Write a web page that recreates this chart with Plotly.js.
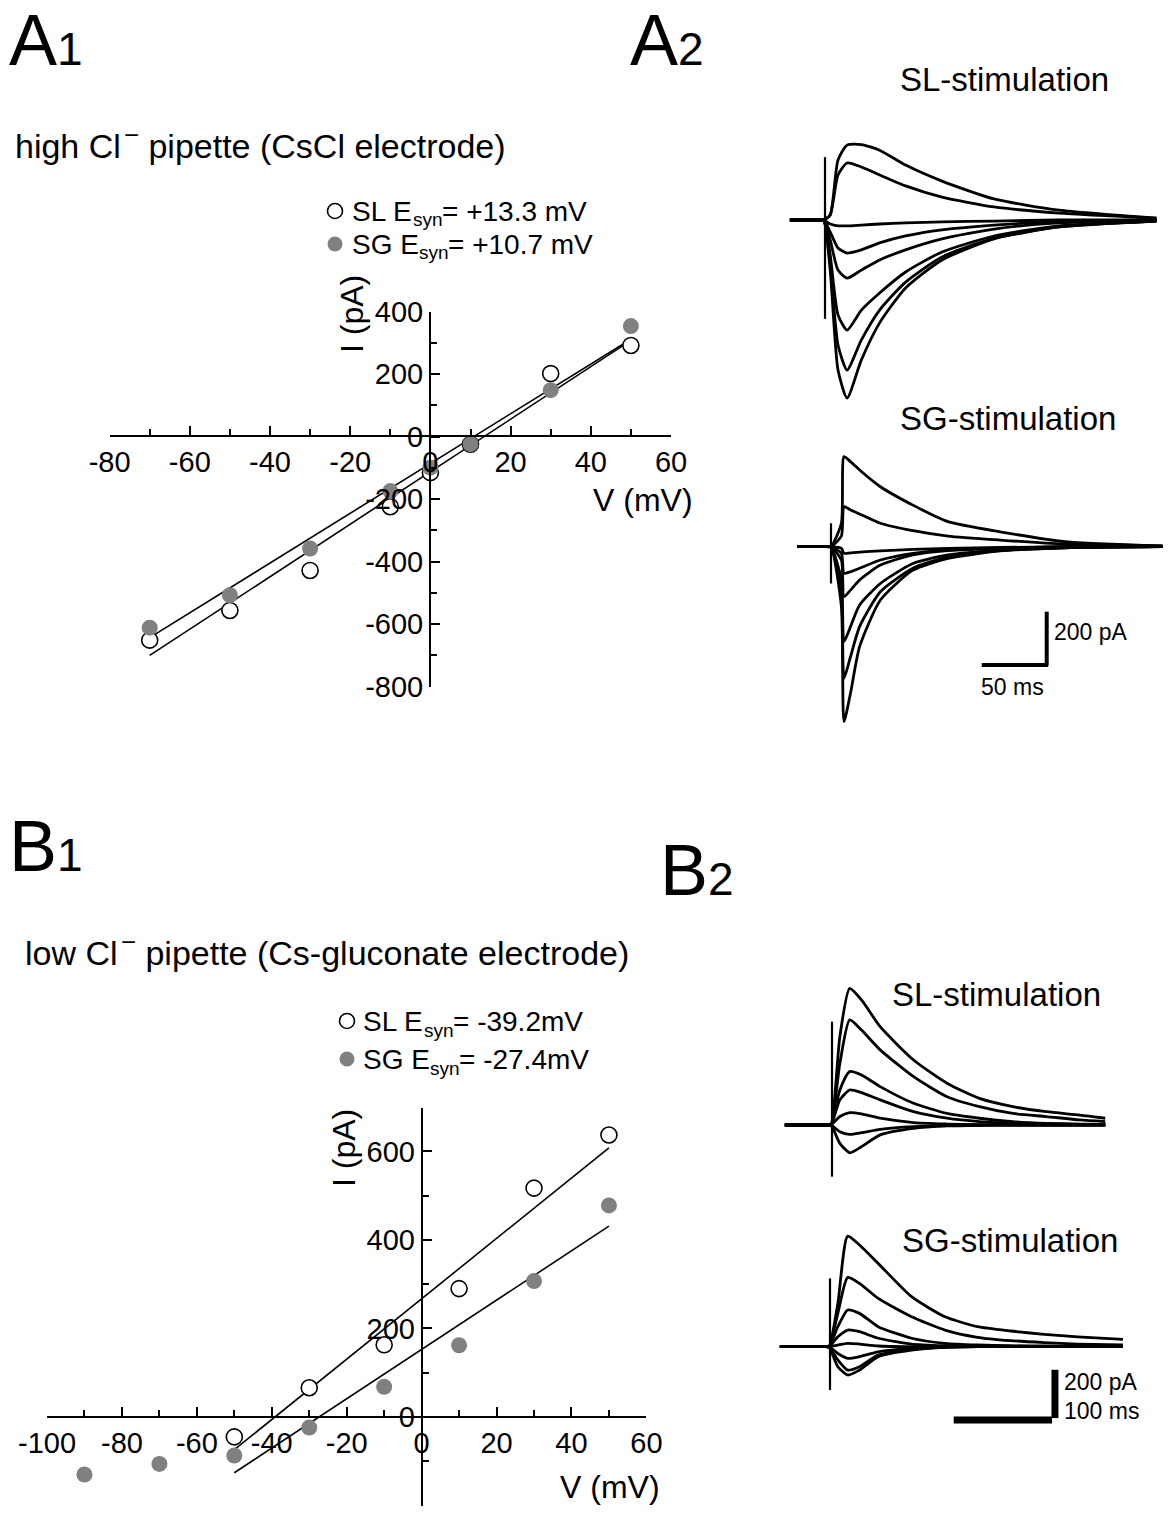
<!DOCTYPE html>
<html><head><meta charset="utf-8">
<script src="https://cdn.plot.ly/plotly-3.0.1.min.js"></script>
<style>html,body{margin:0;padding:0;background:#fff}</style>
</head><body><div id="chart" style="width:1168px;height:1518px"></div>
<script>
// ================= DATA =================
// A1: I-V, high Cl- pipette (CsCl electrode)
const a1V = [-70, -50, -30, -10, 0, 10, 30, 50];
const a1SL = [-651, -556, -428, -224, -115, -24, 202, 292];
const a1SG = [-611, -507, -358, -174, -99, -24, 149, 354];
const a1FitV = [-70, 50];
const a1FitSL = [-700, 308];
const a1FitSG = [-643, 312];
const a1XTicks = [-80, -60, -40, -20, 0, 20, 40, 60];
const a1XTickText = ['-80', '-60', '-40', '-20', '0', '20', '40', '60'];
const a1YTicks = [-800, -600, -400, -200, 0, 200, 400];
const a1YTickText = ['-800', '-600', '-400', '-200', '0', '200', '400'];

// B1: I-V, low Cl- pipette (Cs-gluconate electrode)
const b1VSL = [-50, -30, -10, 10, 30, 50];
const b1SL = [-45, 66, 163, 290, 517, 637];
const b1VSG = [-90, -70, -50, -30, -10, 10, 30, 50];
const b1SG = [-130, -106, -87, -24, 68, 162, 307, 478];
const b1FitV = [-50, 50];
const b1FitSL = [-74, 608];
const b1FitSG = [-126, 431];
const b1XTicks = [-100, -80, -60, -40, -20, 0, 20, 40, 60];
const b1XTickText = ['-100', '-80', '-60', '-40', '-20', '0', '20', '40', '60'];
const b1YTicks = [-200, 0, 200, 400, 600];
const b1YTickText = ['-200', '0', '200', '400', '600'];

// A2: current traces (ms, pA), SL-stimulation
const a2SLTime = [-27, -4, -1, 4, 10, 17, 28, 42, 62, 90, 130, 180, 255];
const a2SLTraces = [
  [0, 0, 0, 19, 225, 281, 283, 262, 206, 146, 79, 37, 7],
  [0, 0, 0, 19, 169, 214, 199, 169, 128, 86, 49, 26, 7],
  [0, 0, 0, -15, -22, -22, -19, -15, -11, -7, -4, 0, 0],
  [0, 0, 0, -45, -105, -124, -112, -86, -60, -37, -19, -7, 0],
  [0, 0, 0, -75, -188, -218, -188, -150, -112, -71, -34, -11, 0],
  [0, 0, 0, -131, -356, -413, -338, -274, -195, -120, -60, -22, -4],
  [0, 0, 0, -169, -469, -563, -450, -338, -233, -139, -68, -26, -4],
  [0, 0, 0, -188, -563, -668, -525, -386, -255, -150, -71, -26, -4]
];
const a2SLStim = [236, -371];
// A2: SG-stimulation
const a2SGTime = [-26, -3, 0, 8, 10, 15, 22, 38, 63, 90, 130, 180, 255];
const a2SGTraces = [
  [0, 0, 0, 88, 338, 319, 288, 225, 156, 94, 56, 19, 3],
  [0, 0, 0, 40, 150, 138, 123, 88, 60, 40, 25, 10, 3],
  [0, 0, 0, -6, -25, -23, -20, -16, -10, -6, -3, 0, 0],
  [0, 0, 0, -25, -100, -94, -81, -50, -25, -13, -5, -1, 0],
  [0, 0, 0, -50, -188, -163, -125, -69, -31, -15, -6, -1, 0],
  [0, 0, 0, -125, -356, -300, -219, -138, -63, -31, -13, -3, 0],
  [0, 0, 0, -175, -494, -413, -300, -169, -81, -38, -15, -4, 0],
  [0, 0, 0, -225, -656, -550, -375, -200, -88, -44, -16, -4, 0]
];
const a2SGStim = [88, -138];
const a2ScaleMs = 50, a2ScalePA = 200;

// B2: SL-stimulation
const b2SLTime = [-48, -4, -1, 8, 18, 30, 49, 83, 117, 150, 184, 218, 252, 278];
const b2SLTraces = [
  [0, 0, 0, 366, 566, 518, 407, 269, 173, 110, 76, 55, 41, 28],
  [0, 0, 0, 255, 435, 393, 311, 200, 117, 76, 48, 35, 21, 14],
  [0, 0, 0, 145, 221, 207, 159, 90, 48, 28, 14, 7, 4, 3],
  [0, 0, 0, 104, 145, 134, 104, 55, 28, 14, 7, 4, 3, 1],
  [0, 0, 0, 35, 51, 46, 28, 10, 4, 1, 0, 0, 0, 0],
  [0, 0, 0, -28, -39, -32, -18, -7, -3, -1, 0, 0, 0, 0],
  [0, 0, 0, -76, -115, -90, -41, -14, -4, -1, 0, 0, 0, 0]
];
const b2SLStim = [428, -214];
// B2: SG-stimulation
const b2SGTime = [-51, -4, -1, 8, 18, 30, 49, 83, 117, 150, 184, 218, 252, 298];
const b2SGTraces = [
  [0, 0, 0, 179, 458, 421, 345, 207, 124, 83, 65, 51, 41, 30],
  [0, 0, 0, 138, 287, 262, 200, 124, 69, 39, 25, 17, 11, 7],
  [0, 0, 0, 83, 152, 138, 83, 35, 14, 7, 4, 3, 1, 1],
  [0, 0, 0, 41, 69, 62, 35, 11, 4, 1, 0, 0, 0, 0],
  [0, 0, 0, 7, 14, 11, 3, 0, 0, 0, 0, 0, 0, 0],
  [0, 0, 0, -28, -48, -41, -21, -7, -1, 0, 0, 0, 0, 0],
  [0, 0, 0, -55, -97, -83, -35, -11, -3, 0, 0, 0, 0, 0],
  [0, 0, 0, -83, -117, -97, -41, -14, -3, 0, 0, 0, 0, 0]
];
const b2SGStim = [283, -179];
const b2ScaleMs = 100, b2ScalePA = 200;

// ================= LAYOUT HELPERS =================
const W = 1168, H = 1518;
const FONT = 'Liberation Sans, Arial, sans-serif';
const px2x = p => p / W;
const px2y = p => 1 - p / H;
function xAxisPx(left, right, zeroPx, k) {
  return {domain: [px2x(left), px2x(right)], range: [(left - zeroPx) / k, (right - zeroPx) / k]};
}
function yAxisPx(top, bottom, zeroPx, k) {
  return {domain: [px2y(bottom), px2y(top)], range: [(zeroPx - bottom) / k, (zeroPx - top) / k]};
}
const hidden = {visible: false, fixedrange: true};

const tickFont = {family: FONT, size: 29, color: '#000'};
function ivX(domL, domR, rng, posPx, vals, text) {
  return {
    domain: [px2x(domL), px2x(domR)], range: rng, anchor: 'free', position: px2y(posPx),
    showline: true, linewidth: 2, linecolor: '#000', mirror: false,
    ticks: 'inside', ticklen: 9, tickwidth: 2, tickcolor: '#000',
    tickmode: 'array', tickvals: vals, ticktext: text, tickfont: tickFont,
    minor: {ticks: 'inside', ticklen: 6, tickwidth: 2, tickcolor: '#000', tickmode: 'linear', tick0: 0, dtick: 10},
    showgrid: false, zeroline: false, fixedrange: true
  };
}
function ivY(domTop, domBot, rng, posPx, vals, text, minorD) {
  return {
    domain: [px2y(domBot), px2y(domTop)], range: rng, anchor: 'free', position: px2x(posPx),
    showline: true, linewidth: 2, linecolor: '#000',
    ticks: 'inside', ticklen: 9, tickwidth: 2, tickcolor: '#000',
    tickmode: 'array', tickvals: vals, ticktext: text, tickfont: tickFont,
    minor: {ticks: 'inside', ticklen: 6, tickwidth: 2, tickcolor: '#000', tickmode: 'linear', tick0: 0, dtick: minorD},
    showgrid: false, zeroline: false, fixedrange: true
  };
}

// ================= TRACES =================
const data = [];
const openMk = {symbol: 'circle', size: 16, color: '#fff', line: {color: '#000', width: 1.6}};
const fillMk = {symbol: 'circle', size: 16, color: '#808080', line: {color: '#808080', width: 0}};
const fitLine = {color: '#000', width: 1.6};

// A1
data.push({x: a1FitV, y: a1FitSL, mode: 'lines', line: fitLine, xaxis: 'x', yaxis: 'y', cliponaxis: false});
data.push({x: a1FitV, y: a1FitSG, mode: 'lines', line: fitLine, xaxis: 'x', yaxis: 'y', cliponaxis: false});
data.push({x: a1V, y: a1SL, mode: 'markers', marker: openMk, xaxis: 'x', yaxis: 'y', cliponaxis: false});
data.push({x: a1V, y: a1SG, mode: 'markers', marker: fillMk, xaxis: 'x', yaxis: 'y', cliponaxis: false});
// B1
data.push({x: b1FitV, y: b1FitSL, mode: 'lines', line: fitLine, xaxis: 'x2', yaxis: 'y2', cliponaxis: false});
data.push({x: b1FitV, y: b1FitSG, mode: 'lines', line: fitLine, xaxis: 'x2', yaxis: 'y2', cliponaxis: false});
data.push({x: b1VSL, y: b1SL, mode: 'markers', marker: openMk, xaxis: 'x2', yaxis: 'y2', cliponaxis: false});
data.push({x: b1VSG, y: b1SG, mode: 'markers', marker: fillMk, xaxis: 'x2', yaxis: 'y2', cliponaxis: false});

function addTraces(time, traces, stim, xa, ya) {
  traces.forEach(tr => data.push({
    x: time, y: tr, mode: 'lines', xaxis: xa, yaxis: ya, cliponaxis: false,
    line: {color: '#000', width: 2.8, shape: 'spline', smoothing: 0.6}
  }));
  data.push({x: [0, 0], y: stim, mode: 'lines', xaxis: xa, yaxis: ya, cliponaxis: false,
    line: {color: '#000', width: 2.2}});
}
addTraces(a2SLTime, a2SLTraces, a2SLStim, 'x3', 'y3');
addTraces(a2SGTime, a2SGTraces, a2SGStim, 'x4', 'y4');
addTraces(b2SLTime, b2SLTraces, b2SLStim, 'x5', 'y5');
addTraces(b2SGTime, b2SGTraces, b2SGStim, 'x6', 'y6');

// ================= AXES =================
const ax3x = xAxisPx(780, 1168, 825, 1.3), ax3y = yAxisPx(120, 420, 220, 0.2665);
const ax4x = xAxisPx(780, 1168, 831, 1.3), ax4y = yAxisPx(430, 740, 546.7, 0.2665);
const ax5x = xAxisPx(770, 1168, 832, 0.983), ax5y = yAxisPx(960, 1200, 1125, 0.2415);
const ax6x = xAxisPx(770, 1168, 830, 0.983), ax6y = yAxisPx(1215, 1450, 1346.7, 0.2415);

const layout = {
  width: W, height: H, margin: {l: 0, r: 0, t: 0, b: 0},
  paper_bgcolor: '#fff', plot_bgcolor: 'rgba(0,0,0,0)', showlegend: false,
  font: {family: FONT, color: '#000'},
  xaxis: ivX(109.6, 671, [-80, 60], 435.7, a1XTicks, a1XTickText),
  yaxis: ivY(311.7, 686.7, [-800, 400], 430, a1YTicks, a1YTickText, 100),
  xaxis2: ivX(47, 646.4, [-100, 60], 1417, b1XTicks, b1XTickText),
  yaxis2: ivY(1108, 1505.5, [-200, 698], 421.7, b1YTicks, b1YTickText, 100),
  xaxis3: Object.assign({}, hidden, ax3x, {anchor: 'y3'}),
  yaxis3: Object.assign({}, hidden, ax3y, {anchor: 'x3'}),
  xaxis4: Object.assign({}, hidden, ax4x, {anchor: 'y4'}),
  yaxis4: Object.assign({}, hidden, ax4y, {anchor: 'x4'}),
  xaxis5: Object.assign({}, hidden, ax5x, {anchor: 'y5'}),
  yaxis5: Object.assign({}, hidden, ax5y, {anchor: 'x5'}),
  xaxis6: Object.assign({}, hidden, ax6x, {anchor: 'y6'}),
  yaxis6: Object.assign({}, hidden, ax6y, {anchor: 'x6'}),
  shapes: [],
  annotations: []
};

// scale bars (drawn in the traces' own ms / pA units)
(function () {
  const cx = (1046.7 - 831) / 1.3, cy = (546.7 - 665) / 0.2665;
  layout.shapes.push({type: 'line', xref: 'x4', yref: 'y4', x0: cx - a2ScaleMs, x1: cx + 1.2, y0: cy, y1: cy, line: {color: '#000', width: 4}});
  layout.shapes.push({type: 'line', xref: 'x4', yref: 'y4', x0: cx, x1: cx, y0: cy, y1: cy + a2ScalePA, line: {color: '#000', width: 4}});
  const bx = (1052 - 830) / 0.983, by = (1346.7 - 1420) / 0.2415;
  layout.shapes.push({type: 'line', xref: 'x6', yref: 'y6', x0: bx - b2ScaleMs, x1: bx, y0: by, y1: by, line: {color: '#000', width: 7}});
  layout.shapes.push({type: 'line', xref: 'x6', yref: 'y6', x0: bx + 3, x1: bx + 3, y0: by + 8, y1: by + 8 + b2ScalePA, line: {color: '#000', width: 7}});
})();

function ann(text, xp, yp, size, xanchor, extra) {
  layout.annotations.push(Object.assign({
    text: text, x: px2x(xp), y: px2y(yp), xref: 'paper', yref: 'paper',
    xanchor: xanchor || 'left', yanchor: 'middle', showarrow: false,
    font: {family: FONT, size: size, color: '#000'}
  }, extra || {}));
}
// a run of text pieces (for sub/superscripts), placed left to right
const meas = document.createElement('canvas').getContext('2d');
function textW(t, size) { meas.font = size + 'px "Liberation Sans", Arial, sans-serif'; return meas.measureText(t).width; }
function annRun(pieces, xp, yp) {
  let x = xp;
  pieces.forEach(p => {
    x += (p.gap || 0);
    ann(p.t, x, yp + (p.dy || 0), p.size);
    x += textW(p.t, p.size);
  });
}
function legendDot(xp, yp, filled) {
  layout.shapes.push({type: 'circle', xref: 'paper', yref: 'paper', xsizemode: 'pixel', ysizemode: 'pixel',
    xanchor: px2x(xp), yanchor: px2y(yp), x0: -7.5, x1: 7.5, y0: -7.5, y1: 7.5,
    fillcolor: filled ? '#808080' : '#fff', line: {color: filled ? '#808080' : '#000', width: filled ? 0 : 1.6}});
}

// panel letters
ann('A<span style="font-size:46px">1</span>', 7, 40, 72);
ann('A<span style="font-size:46px">2</span>', 628, 40, 72);
ann('B<span style="font-size:46px">1</span>', 7, 846, 72);
ann('B<span style="font-size:46px">2</span>', 658, 870, 72);
// headings
annRun([{t: 'high Cl', size: 34}, {t: '\u2212', size: 26, dy: -11, gap: 3}, {t: ' pipette (CsCl electrode)', size: 34}], 13, 146);
annRun([{t: 'low Cl', size: 34}, {t: '\u2212', size: 26, dy: -11, gap: 3}, {t: ' pipette (Cs-gluconate electrode)', size: 34}], 23, 953);
// legends
function legendRun(name, value, xp, yp) {
  annRun([{t: name + ' E', size: 28}, {t: 'syn', size: 19, dy: 9}, {t: value, size: 28}], xp, yp);
}
legendDot(335, 211, false); legendRun('SL', '= +13.3 mV', 350, 211);
legendDot(335, 244, true);  legendRun('SG', '= +10.7 mV', 350, 244);
legendDot(347, 1021, false); legendRun('SL', '= -39.2mV', 361, 1021);
legendDot(347, 1059, true);  legendRun('SG', '= -27.4mV', 361, 1059);
// axis titles
ann('I (pA)', 352, 314, 32, 'center', {textangle: -90});
ann('V (mV)', 643, 500, 32, 'center');
ann('I (pA)', 344, 1148, 32, 'center', {textangle: -90});
ann('V (mV)', 610, 1487, 32, 'center');
// trace panel labels
ann('SL-stimulation', 1004, 80, 33, 'center');
ann('SG-stimulation', 1008, 418, 33, 'center');
ann('200 pA', 1052, 632, 23);
ann('50 ms', 979, 687, 23);
ann('SL-stimulation', 996, 994, 33, 'center');
ann('SG-stimulation', 1010, 1240, 33, 'center');
ann('200 pA', 1062, 1382, 23);
ann('100 ms', 1062, 1411, 23);

Plotly.newPlot('chart', data, layout, {staticPlot: true, displayModeBar: false});
</script>
</body></html>
